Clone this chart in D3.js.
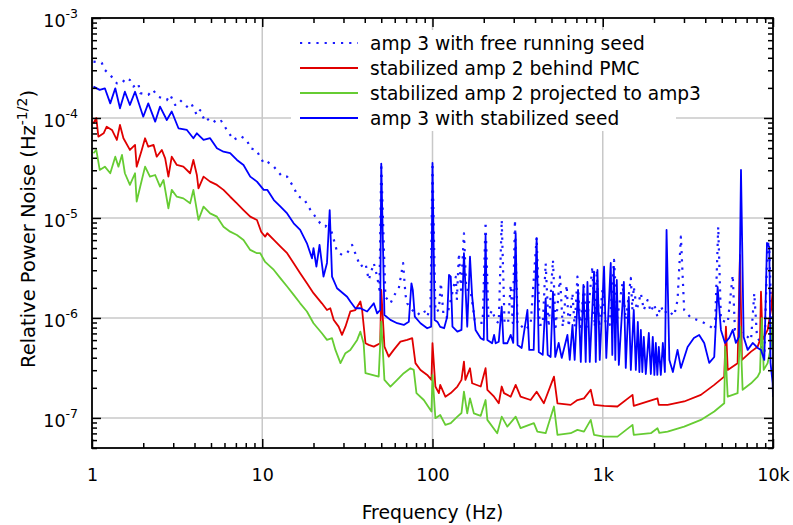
<!DOCTYPE html>
<html><head><meta charset="utf-8">
<script src="https://cdn.jsdelivr.net/npm/d3@7"></script>
<style>
body{margin:0;background:#fff}
text{font-family:"DejaVu Sans",Verdana,sans-serif;fill:#000}
</style>
</head><body>
<svg id="c" width="793" height="525"></svg>
<script>
// ---------- data ----------
const xTicks = [1, 10, 100, 1000, 10000];
const xTickLabels = ["1", "10", "100", "1k", "10k"];
const yTickExps = [-3, -4, -5, -6, -7];
const legendLabels = [
  "amp 3 with free running seed",
  "stabilized amp 2 behind PMC",
  "stabilized amp 2 projected to amp3",
  "amp 3 with stabilized seed"
];
const xLabel = "Frequency (Hz)";

// amp 3 with free running seed [Hz, RPN]
const freeRun = [[1.02,3.66e-4],[1.14,3.57e-4],[1.19,3.02e-4],[1.28,2.69e-4],[1.40,2.22e-4],[1.50,2.22e-4],[1.58,2.51e-4],[1.67,2.40e-4],[1.75,2.06e-4],[1.87,2.22e-4],[1.92,1.77e-4],[2.14,1.70e-4],[2.28,1.91e-4],[2.45,1.63e-4],[2.75,1.51e-4],[2.88,1.70e-4],[3.08,1.35e-4],[3.29,1.51e-4],[3.61,1.30e-4],[3.82,1.41e-4],[4.13,1.07e-4],[4.32,1.20e-4],[4.62,9.18e-5],[4.94,1.00e-4],[5.42,8.85e-5],[5.74,9.33e-5],[6.20,7.59e-5],[6.78,6.03e-5],[7.42,6.61e-5],[8.13,6.03e-5],[8.50,4.98e-5],[9.22,4.79e-5],[10.2,3.53e-5],[10.7,3.66e-5],[11.7,3.26e-5],[13.1,2.59e-5],[14.0,2.59e-5],[15.0,2.14e-5],[16.3,1.63e-5],[17.5,1.57e-5],[19.2,1.20e-5],[20.5,1.03e-5],[21.9,8.85e-6],[23.5,8.18e-6],[24.5,9.18e-6],[25.7,7.03e-6],[27.5,4.60e-6],[29.4,4.27e-6],[31.5,4.44e-6],[33.7,5.37e-6],[36.1,3.95e-6],[37.7,3.26e-6],[40.4,3.53e-6],[42.2,2.40e-6],[45.2,3.53e-6],[47.3,2.59e-6],[48.8,1.91e-6],[50,3.5e-5],[52.9,1.63e-6],[56.6,1.40e-6],[60.6,1.77e-6],[63.4,1.98e-6],[67.2,3.53e-6],[69.4,1.70e-6],[71.0,1.40e-6],[76.0,1.20e-6],[81.3,1.07e-6],[88.9,1.20e-6],[93.1,1.03e-6],[97.3,1.29e-6],[100,3.55e-5],[104,1.15e-6],[109,1.20e-6],[112,2.24e-6],[116,1.07e-6],[121,1.00e-6],[128,1.51e-6],[137,2.57e-6],[139,1.51e-6],[143,4.44e-6],[147,1.91e-6],[153,7.03e-6],[158,1.91e-6],[167,1.91e-6],[177,9.55e-7],[187,8.91e-7],[197,8.91e-7],[205,9.18e-6],[213,1.00e-6],[224,1.20e-6],[235,9.33e-7],[245,8.91e-7],[255,9.55e-6],[265,8.91e-7],[278,8.91e-7],[288,2.14e-6],[296,8.91e-7],[305,9.55e-6],[316,8.51e-7],[329,8.51e-7],[348,7.59e-7],[377,8.51e-7],[409,6.41e-6],[426,8.51e-7],[444,8.51e-7],[462,3.53e-6],[481,8.13e-7],[510,3.80e-6],[529,8.13e-7],[561,2.59e-6],[582,8.13e-7],[614,2.14e-6],[631,8.13e-7],[664,1.77e-6],[684,8.13e-7],[710,2.59e-6],[738,8.13e-7],[776,2.06e-6],[805,8.13e-7],[869,3.26e-6],[897,8.13e-7],[922,3.02e-6],[953,8.13e-7],[996,1.91e-6],[1042,8.51e-7],[1099,8.51e-7],[1165,3.80e-6],[1217,1.00e-6],[1306,2.22e-6],[1365,9.55e-7],[1462,2.51e-6],[1492,1.20e-6],[1521,2.06e-6],[1585,1.20e-6],[1674,1.77e-6],[1742,1.20e-6],[1832,1.51e-6],[1916,1.15e-6],[2004,1.38e-6],[2097,1.02e-6],[2193,1.32e-6],[2295,1.10e-6],[2404,1.20e-6],[2512,1.12e-6],[2626,1.05e-6],[2750,1.51e-6],[2877,6.50e-6],[3008,1.20e-6],[3296,1.00e-6],[3606,9.55e-7],[3944,8.91e-7],[4316,8.13e-7],[4560,7.59e-7],[4768,8.18e-6],[4944,9.55e-7],[5420,8.91e-7],[5800,2.69e-6],[5976,7.59e-7],[6310,7.59e-7],[6668,6.76e-7],[7100,6.46e-7],[7430,6.03e-7],[7762,1.77e-6],[8054,6.46e-7],[8500,5.62e-7],[8890,4.07e-7],[9300,6.03e-6],[9510,4.79e-6],[9730,1.41e-6],[10000,7.59e-7]];

// stabilized amp 2 behind PMC
const behindPMC = [[1.02,8.85e-5],[1.06,1.00e-4],[1.09,6.50e-5],[1.17,7.03e-5],[1.22,8.18e-5],[1.31,7.59e-5],[1.40,6.03e-5],[1.46,8.51e-5],[1.53,6.27e-5],[1.67,4.79e-5],[1.79,5.37e-5],[1.83,3.26e-5],[1.96,4.79e-5],[2.05,6.27e-5],[2.14,5.16e-5],[2.30,5.37e-5],[2.40,4.10e-5],[2.57,4.79e-5],[2.69,3.95e-5],[2.81,2.59e-5],[2.94,4.10e-5],[3.15,3.39e-5],[3.44,3.26e-5],[3.77,2.80e-5],[3.94,3.80e-5],[4.13,2.69e-5],[4.22,1.98e-5],[4.52,2.59e-5],[4.94,2.31e-5],[5.42,2.14e-5],[5.92,1.91e-5],[6.48,1.63e-5],[7.10,1.40e-5],[7.76,1.20e-5],[8.50,1.03e-5],[9.31,9.55e-6],[9.87,7.24e-6],[10.4,6.50e-6],[10.7,7.03e-6],[11.7,6.03e-6],[12.8,5.16e-6],[14.0,4.44e-6],[15.3,3.53e-6],[16.7,2.80e-6],[18.3,2.22e-6],[20.0,1.77e-6],[22.4,1.40e-6],[24.0,1.20e-6],[25.1,1.25e-6],[26.3,9.55e-7],[28.1,8.18e-7],[29.4,6.76e-7],[30.8,8.18e-7],[32.9,1.16e-6],[35.2,1.20e-6],[37.7,1.46e-6],[38.6,1.20e-6],[40.4,5.58e-7],[42.2,5.37e-7],[45.2,5.16e-7],[49.3,5.58e-7],[50,1.91e-6],[52.2,5.16e-7],[55.3,4.10e-7],[59.2,4.79e-7],[64.8,5.79e-7],[71.0,6.03e-7],[76.0,6.27e-7],[79.4,3.53e-7],[85.0,3.02e-7],[93.1,2.69e-7],[98.6,2.40e-7],[100,5.58e-7],[104,2.06e-7],[109,1.77e-7],[111,2.14e-7],[119,1.63e-7],[128,1.77e-7],[140,2.06e-7],[148,2.40e-7],[153,3.66e-7],[156,2.40e-7],[166,3.14e-7],[171,2.22e-7],[192,2.06e-7],[205,3.14e-7],[210,1.91e-7],[230,1.63e-7],[245,1.40e-7],[255,2.06e-7],[263,1.77e-7],[288,1.63e-7],[308,2.14e-7],[329,1.63e-7],[377,1.51e-7],[409,1.83e-7],[451,1.40e-7],[517,2.59e-7],[542,1.40e-7],[648,1.35e-7],[710,1.51e-7],[776,1.57e-7],[850,1.91e-7],[889,1.35e-7],[1018,1.32e-7],[1220,1.30e-7],[1496,1.70e-7],[1521,1.32e-7],[2097,1.57e-7],[2134,1.35e-7],[2404,1.35e-7],[3008,1.46e-7],[3770,1.70e-7],[4517,2.14e-7],[5171,2.59e-7],[5291,8.18e-7],[5420,3.02e-7],[6197,3.53e-7],[6397,4.27e-6],[6570,3.80e-7],[7430,4.60e-7],[8128,5.16e-7],[8390,6.03e-7],[8500,1.83e-6],[8690,6.03e-7],[9300,7.59e-7],[9730,1.20e-6],[10000,2.0e-6]];

// stabilized amp 2 projected to amp3
const projected = [[1.02,4.44e-5],[1.06,4.79e-5],[1.11,3.02e-5],[1.19,3.26e-5],[1.28,2.80e-5],[1.37,4.10e-5],[1.43,3.26e-5],[1.50,4.27e-5],[1.56,2.80e-5],[1.67,2.14e-5],[1.79,2.80e-5],[1.83,1.46e-5],[1.92,2.06e-5],[2.05,3.26e-5],[2.19,2.59e-5],[2.35,2.69e-5],[2.51,2.06e-5],[2.63,2.40e-5],[2.81,1.25e-5],[2.94,1.91e-5],[3.15,1.63e-5],[3.44,1.57e-5],[3.77,1.40e-5],[3.94,1.91e-5],[4.22,9.55e-6],[4.52,1.30e-5],[4.94,1.11e-5],[5.42,1.03e-5],[5.92,8.18e-6],[6.48,7.29e-6],[7.10,6.76e-6],[7.76,6.03e-6],[8.50,4.79e-6],[9.31,4.44e-6],[9.73,4.44e-6],[10.4,3.63e-6],[11.7,3.02e-6],[12.8,2.49e-6],[14.0,2.06e-6],[15.3,1.70e-6],[16.7,1.40e-6],[18.3,1.16e-6],[20.0,8.85e-7],[22.4,7.03e-7],[24.0,6.03e-7],[25.7,6.27e-7],[26.9,4.79e-7],[28.8,3.53e-7],[30.8,4.44e-7],[32.9,4.79e-7],[36.1,6.03e-7],[37.7,7.29e-7],[39.4,5.58e-7],[40.4,2.80e-7],[44.2,2.69e-7],[48.3,2.59e-7],[50,9.18e-7],[52.2,2.40e-7],[56.6,2.06e-7],[62.0,2.40e-7],[67.8,2.80e-7],[74.2,3.14e-7],[77.6,3.02e-7],[80.5,1.77e-7],[88.9,1.51e-7],[98.6,1.16e-7],[100,2.69e-7],[104,9.93e-8],[111,1.07e-7],[119,8.51e-8],[128,8.85e-8],[140,1.03e-7],[148,1.12e-7],[153,1.83e-7],[160,1.11e-7],[166,1.57e-7],[175,1.11e-7],[192,1.05e-7],[205,1.51e-7],[210,9.55e-8],[240,7.03e-8],[255,1.03e-7],[275,8.18e-8],[308,1.03e-7],[329,7.89e-8],[394,8.85e-8],[413,7.29e-8],[462,7.03e-8],[517,1.30e-7],[542,6.76e-8],[648,7.03e-8],[710,7.59e-8],[776,7.29e-8],[850,9.55e-8],[889,6.76e-8],[1018,6.50e-8],[1220,6.50e-8],[1496,8.51e-8],[1521,6.76e-8],[1916,7.03e-8],[2097,7.89e-8],[2148,7.08e-8],[2404,7.29e-8],[3008,8.18e-8],[3770,9.55e-8],[4517,1.16e-7],[5171,1.40e-7],[5240,5.16e-7],[5420,1.63e-7],[6197,1.77e-7],[6424,8.18e-7],[6630,1.91e-7],[7430,2.22e-7],[8128,2.59e-7],[8390,2.88e-7],[8590,9.93e-7],[8820,3.02e-7],[9300,3.53e-7],[9730,5.16e-7],[10000,1.03e-6]];

// amp 3 with stabilized seed
const stabSeed = [[1.02,2.06e-4],[1.11,1.91e-4],[1.19,1.98e-4],[1.28,1.40e-4],[1.37,1.98e-4],[1.46,1.25e-4],[1.56,1.83e-4],[1.67,1.35e-4],[1.79,1.83e-4],[2.00,1.03e-4],[2.14,1.40e-4],[2.35,9.18e-5],[2.51,1.30e-4],[2.75,9.55e-5],[2.94,1.16e-4],[3.22,7.89e-5],[3.61,7.59e-5],[3.94,6.27e-5],[4.13,7.03e-5],[4.52,6.03e-5],[4.94,6.27e-5],[5.42,4.98e-5],[5.92,4.60e-5],[6.48,4.44e-5],[7.10,3.80e-5],[7.76,3.39e-5],[8.50,2.59e-5],[9.31,2.31e-5],[10.2,1.91e-5],[10.7,1.91e-5],[11.7,1.51e-5],[12.8,1.30e-5],[14.0,1.11e-5],[15.3,8.85e-6],[16.7,7.59e-6],[18.3,5.58e-6],[19.6,3.95e-6],[20.0,4.98e-6],[20.8,3.26e-6],[21.7,5.37e-6],[22.9,2.59e-6],[24.0,3.55e-6],[24.9,1.20e-5],[25.7,2.59e-6],[27.5,1.98e-6],[31.5,1.63e-6],[32.9,1.46e-6],[35.2,1.25e-6],[37.7,1.25e-6],[41.3,1.16e-6],[45.2,1.40e-6],[47.3,1.11e-6],[49.3,1.20e-6],[50,3.5e-5],[52.2,1.07e-6],[56.6,9.55e-7],[62.0,8.85e-7],[67.8,8.51e-7],[72.6,9.18e-7],[75.2,2.22e-6],[76.6,1.91e-6],[78.7,1.03e-6],[85.0,8.85e-7],[93.1,7.89e-7],[98.2,8.18e-7],[100,3.55e-5],[103,9.55e-7],[107,9.12e-7],[111,8.13e-7],[117,7.89e-7],[122,1.03e-6],[125,2.69e-6],[128,2.59e-6],[131,8.18e-7],[140,7.29e-7],[148,7.59e-7],[153,4.44e-6],[160,8.18e-7],[166,4.10e-6],[171,1.63e-6],[179,7.59e-7],[192,6.27e-7],[200,6.03e-7],[205,6.76e-6],[210,6.03e-7],[224,5.58e-7],[230,6.76e-7],[235,5.58e-7],[245,5.79e-7],[255,1.30e-6],[261,5.58e-7],[275,5.58e-7],[288,6.76e-7],[298,5.62e-7],[308,7.03e-6],[316,5.37e-7],[334,5.01e-7],[361,1.20e-6],[370,4.79e-7],[393,4.79e-7],[409,6.27e-6],[421,4.57e-7],[444,4.27e-7],[462,1.57e-6],[475,4.27e-7],[494,4.07e-7],[510,1.83e-6],[526,4.07e-7],[551,5.62e-7],[574,3.98e-7],[620,6.76e-7],[640,3.80e-7],[664,8.51e-7],[684,3.80e-7],[716,1.91e-6],[743,3.63e-7],[770,2.14e-6],[794,3.63e-7],[813,2.29e-6],[839,3.63e-7],[889,2.90e-6],[910,3.63e-7],[931,3.02e-6],[960,3.80e-7],[1018,3.26e-6],[1049,3.98e-7],[1114,3.55e-6],[1138,4.27e-7],[1161,3.24e-6],[1185,3.80e-7],[1209,2.40e-6],[1243,3.39e-7],[1330,2.29e-6],[1365,3.16e-7],[1422,1.62e-6],[1462,3.02e-7],[1521,1.20e-6],[1564,3.02e-7],[1607,9.12e-7],[1641,2.88e-7],[1674,7.59e-7],[1708,2.88e-7],[1742,6.46e-7],[1790,2.75e-7],[1865,7.08e-7],[1916,2.75e-7],[1967,6.46e-7],[2010,2.69e-7],[2050,5.62e-7],[2092,2.69e-7],[2134,5.13e-7],[2193,2.69e-7],[2254,5.62e-7],[2317,2.88e-7],[2370,7.59e-6],[2462,3.80e-7],[2582,2.88e-7],[2750,4.79e-7],[2877,3.16e-7],[3150,5.13e-7],[3430,6.31e-7],[3684,6.76e-7],[3944,5.62e-7],[4220,3.55e-7],[4517,4.07e-7],[4730,2.04e-6],[4944,7.59e-7],[5222,5.62e-7],[5534,6.31e-7],[5800,7.59e-7],[6055,5.62e-7],[6310,6.46e-7],[6486,3.02e-5],[6724,6.46e-7],[7100,4.79e-7],[7600,5.62e-7],[8130,5.01e-7],[8500,4.79e-7],[8890,3.80e-7],[9220,5.62e-6],[9510,5.13e-6],[9670,3.55e-7],[9950,2.24e-7],[10000,1.62e-7]];

const seriesColors = ["#1a1aff", "#e00000", "#66cc33", "#0000ff"];

// ---------- layout ----------
const L = 92, R = 773, T = 18, B = 448;
const x = d3.scaleLog().domain([1, 1e4]).range([L, R]);
const y = d3.scaleLog().domain([5e-8, 1e-3]).range([B, T]);
const svg = d3.select("#c");

const yMajor = yTickExps.map(e => Math.pow(10, e));
const xMinor = [];
xTicks.slice(0, -1).forEach(d => { for (let k = 2; k <= 9; k++) xMinor.push(d * k); });
const yMinor = [];
[1e-8, 1e-7, 1e-6, 1e-5, 1e-4].forEach(d => { for (let k = 2; k <= 9; k++) { const v = d * k; if (v >= 5e-8 && v <= 1e-3) yMinor.push(v); } });

// grid
const grid = svg.append("g").attr("stroke", "#c8c8c8").attr("stroke-width", 1.5);
grid.selectAll(".gx").data(xTicks.filter(d => d > 1 && d < 1e4)).join("line")
  .attr("x1", d => x(d)).attr("x2", d => x(d)).attr("y1", T).attr("y2", B);
grid.selectAll(".gy").data(yMajor.filter(d => d < 1e-3)).join("line")
  .attr("y1", d => y(d)).attr("y2", d => y(d)).attr("x1", L).attr("x2", R);

// data
svg.append("clipPath").attr("id", "clip").append("rect")
  .attr("x", L).attr("y", T).attr("width", R - L).attr("height", B - T);
const line = d3.line().x(d => x(d[0])).y(d => y(d[1]));
const plot = svg.append("g").attr("clip-path", "url(#clip)").attr("fill", "none");
const series = [freeRun, behindPMC, projected, stabSeed];
series.forEach((s, i) => {
  const p = plot.append("path").datum(s).attr("d", line)
    .attr("stroke", seriesColors[i]).attr("stroke-width", i === 0 ? 2.2 : 1.8)
    .attr("stroke-linejoin", "round");
  if (i === 0) p.attr("stroke-dasharray", "2.2,6");
});

// legend
const lg = svg.append("g");
lg.append("rect").attr("x", 291).attr("y", 30).attr("width", 385).attr("height", 101).attr("fill", "#fff");
legendLabels.forEach((t, i) => {
  const yy = 43 + i * 25;
  const ln = lg.append("line").attr("x1", 300).attr("x2", 358).attr("y1", yy).attr("y2", yy)
    .attr("stroke", seriesColors[i]).attr("stroke-width", i === 0 ? 2.2 : 1.8);
  if (i === 0) ln.attr("stroke-dasharray", "2.2,6");
  lg.append("text").attr("x", 370).attr("y", yy + 6.5).attr("font-size", 18.6).text(t);
});

// axes ticks
function styleAxis(g) {
  g.select(".domain").remove();
  g.selectAll(".tick line").attr("stroke", "#000").attr("stroke-width", 1.5);
}
svg.append("g").attr("transform", `translate(0,${B})`)
  .call(d3.axisBottom(x).tickValues(xTicks).tickSize(-9).tickPadding(21)
    .tickFormat((d, i) => xTickLabels[i]))
  .call(styleAxis)
  .call(g => g.selectAll("text").attr("font-size", 17.5).attr("font-family", "DejaVu Sans, Verdana, sans-serif"));
svg.append("g").attr("transform", `translate(0,${B})`)
  .call(d3.axisBottom(x).tickValues(xMinor).tickSize(-5).tickFormat(""))
  .call(styleAxis);
svg.append("g").attr("transform", `translate(0,${T})`)
  .call(d3.axisTop(x).tickValues(xTicks).tickSize(-9).tickFormat(""))
  .call(styleAxis);
svg.append("g").attr("transform", `translate(0,${T})`)
  .call(d3.axisTop(x).tickValues(xMinor).tickSize(-5).tickFormat(""))
  .call(styleAxis);
svg.append("g").attr("transform", `translate(${L},0)`)
  .call(d3.axisLeft(y).tickValues(yMajor).tickSize(-9).tickFormat(""))
  .call(styleAxis);
svg.append("g").attr("transform", `translate(${L},0)`)
  .call(d3.axisLeft(y).tickValues(yMinor).tickSize(-5).tickFormat(""))
  .call(styleAxis);
svg.append("g").attr("transform", `translate(${R},0)`)
  .call(d3.axisRight(y).tickValues(yMajor).tickSize(-9).tickFormat(""))
  .call(styleAxis);
svg.append("g").attr("transform", `translate(${R},0)`)
  .call(d3.axisRight(y).tickValues(yMinor).tickSize(-5).tickFormat(""))
  .call(styleAxis);

// y tick labels with superscripts
yTickExps.forEach(e => {
  const t = svg.append("text").attr("x", 78).attr("y", y(Math.pow(10, e)) + 9)
    .attr("text-anchor", "end").attr("font-size", 17.5);
  t.append("tspan").text("10");
  t.append("tspan").attr("dy", -9).attr("font-size", 12.5).text(String(e));
});

// frame
svg.append("rect").attr("x", L).attr("y", T).attr("width", R - L).attr("height", B - T)
  .attr("fill", "none").attr("stroke", "#000").attr("stroke-width", 1.8);

// axis titles
svg.append("text").attr("x", (L + R) / 2).attr("y", 519).attr("text-anchor", "middle")
  .attr("font-size", 18.8).text(xLabel);
const yt = svg.append("text").attr("transform", "translate(35,229) rotate(-90)")
  .attr("text-anchor", "middle").attr("font-size", 19.5);
yt.append("tspan").text("Relative Power Noise (Hz");
yt.append("tspan").attr("dy", -8.5).attr("font-size", 14).text("-1/2");
yt.append("tspan").attr("dy", 8.5).text(")");
</script>
</body></html>
